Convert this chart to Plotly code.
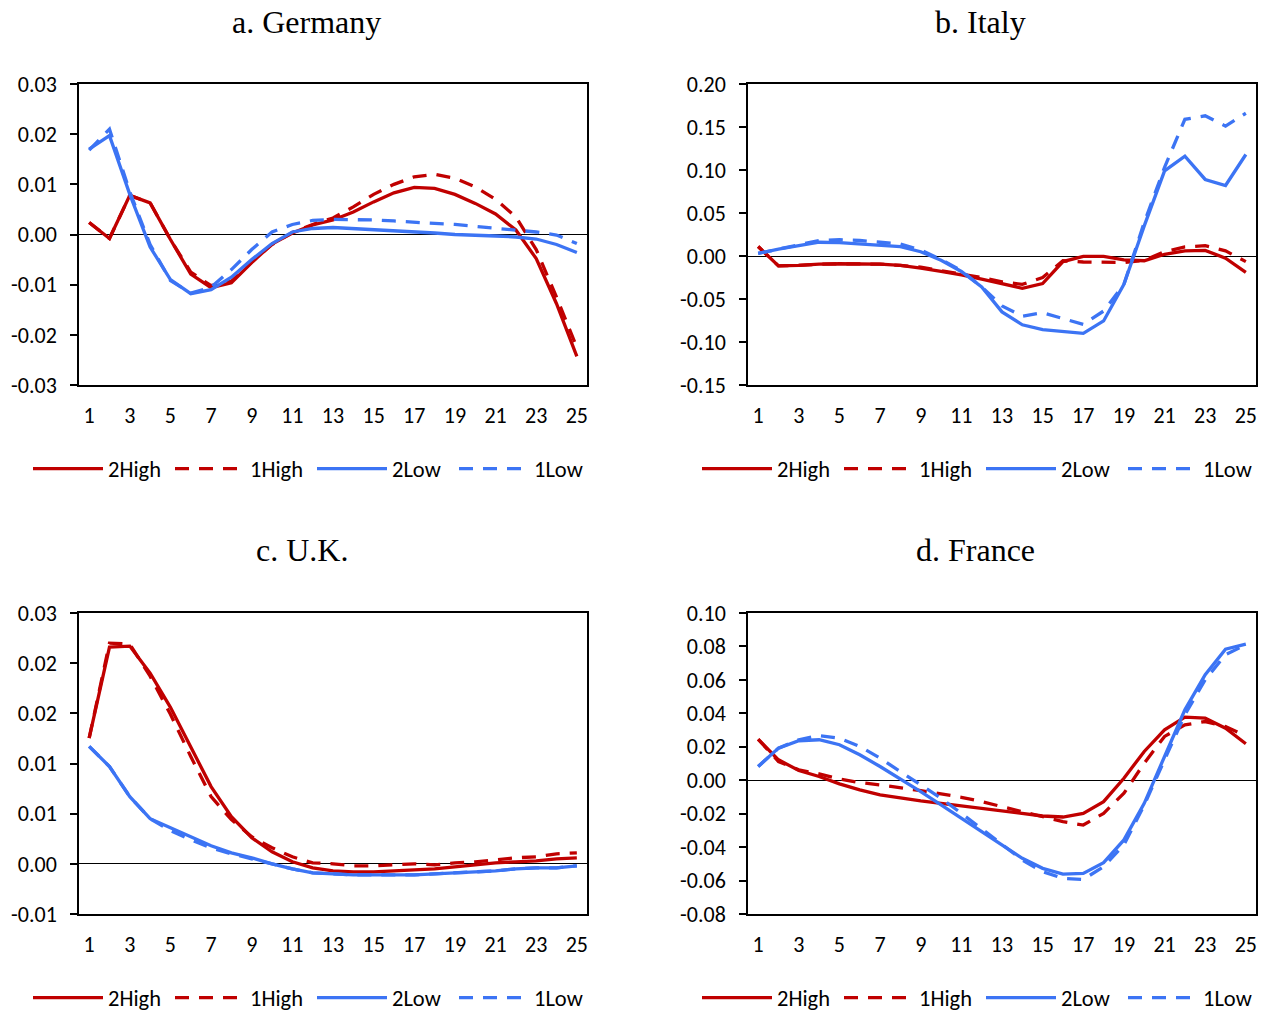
import plotly.graph_objects as go

# Horizon (periods after the shock)
periods = list(range(1, 26))
x_ticks = list(range(1, 26, 2))

series_names = ["2High", "1High", "2Low", "1Low"]

# a. Germany
de_2high = [0.0024, -0.0008, 0.0078, 0.0063, -0.0010, -0.0079, -0.0106, -0.0096, -0.0056, -0.0019,
            0.0003, 0.0019, 0.0029, 0.0045, 0.0065, 0.0083, 0.0094, 0.0092, 0.0080, 0.0062,
            0.0041, 0.0009, -0.0048, -0.0138, -0.0243]
de_1high = [0.0024, -0.0008, 0.0078, 0.0063, -0.0010, -0.0075, -0.0102, -0.0093, -0.0055, -0.0020,
            0.0004, 0.0020, 0.0033, 0.0055, 0.0080, 0.0100, 0.0115, 0.0120, 0.0112, 0.0095,
            0.0070, 0.0035, -0.0030, -0.0125, -0.0225]
de_2low = [0.0170, 0.0197, 0.0080, -0.0025, -0.0090, -0.0118, -0.0110, -0.0085, -0.0050, -0.0018,
           0.0005, 0.0012, 0.0014, 0.0012, 0.0010, 0.0007, 0.0005, 0.0003, 0.0000, -0.0001,
           -0.0003, -0.0005, -0.0009, -0.0020, -0.0036]
de_1low = [0.0168, 0.0210, 0.0085, -0.0020, -0.0092, -0.0117, -0.0105, -0.0070, -0.0030, 0.0005,
           0.0020, 0.0028, 0.0030, 0.0030, 0.0029, 0.0027, 0.0024, 0.0022, 0.0020, 0.0016,
           0.0012, 0.0008, 0.0005, -0.0001, -0.0018]

# b. Italy
it_2high = [0.0110, -0.0115, -0.0110, -0.0095, -0.0090, -0.0090, -0.0095, -0.0110, -0.0140, -0.0180,
            -0.0220, -0.0270, -0.0320, -0.0375, -0.0320, -0.0065, -0.0005, -0.0005, -0.0045, -0.0055,
            0.0020, 0.0060, 0.0065, -0.0025, -0.0190]
it_1high = [0.0110, -0.0115, -0.0110, -0.0095, -0.0090, -0.0090, -0.0095, -0.0110, -0.0130, -0.0170,
            -0.0210, -0.0250, -0.0300, -0.0330, -0.0250, -0.0055, -0.0070, -0.0075, -0.0075, -0.0050,
            0.0050, 0.0105, 0.0120, 0.0060, -0.0065]
it_2low = [0.0030, 0.0080, 0.0120, 0.0160, 0.0155, 0.0140, 0.0130, 0.0110, 0.0050, -0.0050,
           -0.0180, -0.0360, -0.0650, -0.0800, -0.0855, -0.0880, -0.0900, -0.0755, -0.0330, 0.0350,
           0.0990, 0.1160, 0.0890, 0.0820, 0.1180]
it_1low = [0.0030, 0.0080, 0.0130, 0.0180, 0.0190, 0.0180, 0.0160, 0.0140, 0.0070, -0.0040,
           -0.0170, -0.0360, -0.0580, -0.0700, -0.0660, -0.0730, -0.0795, -0.0640, -0.0330, 0.0390,
           0.1030, 0.1590, 0.1630, 0.1510, 0.1660]

# c. U.K.
uk_2high = [0.01254, 0.0216, 0.0217, 0.0190, 0.0156, 0.0117, 0.0077, 0.0047, 0.0026, 0.0012,
            0.0002, -0.0004, -0.0007, -0.0008, -0.0008, -0.0007, -0.0006, -0.0005, -0.0003, -0.0001,
            0.0001, 0.0002, 0.0003, 0.0005, 0.0006]
uk_1high = [0.01254, 0.0220, 0.0219, 0.0187, 0.0149, 0.0107, 0.0067, 0.0044, 0.0027, 0.0016,
            0.0007, 0.0001, 0.0000, -0.0002, -0.0002, -0.0001, 0.0000, -0.0001, 0.0001, 0.0002,
            0.0004, 0.0006, 0.0007, 0.0010, 0.0011]
uk_2low = [0.0117, 0.0097, 0.0067, 0.0045, 0.0036, 0.0027, 0.0018, 0.0011, 0.0006, 0.0000,
           -0.0005, -0.0009, -0.0010, -0.0011, -0.0011, -0.0011, -0.0011, -0.0010, -0.0009, -0.0008,
           -0.0007, -0.0005, -0.0004, -0.0004, -0.0002]
uk_1low = [0.0117, 0.0097, 0.0067, 0.0045, 0.0033, 0.0024, 0.0016, 0.0010, 0.0005, 0.0000,
           -0.0005, -0.0009, -0.0010, -0.0011, -0.0011, -0.0011, -0.0011, -0.0010, -0.0009, -0.0008,
           -0.0007, -0.0005, -0.0004, -0.0004, -0.0002]

# d. France
fr_2high = [0.0245, 0.0122, 0.0058, 0.0022, -0.0022, -0.0058, -0.0088, -0.0108, -0.0124, -0.0138,
            -0.0154, -0.0168, -0.0184, -0.0200, -0.0214, -0.0220, -0.0198, -0.0128, 0.0012, 0.0172,
            0.0301, 0.0377, 0.0371, 0.0311, 0.0218]
fr_1high = [0.0245, 0.0112, 0.0062, 0.0038, 0.0008, -0.0014, -0.0028, -0.0044, -0.0062, -0.0082,
            -0.0102, -0.0128, -0.0158, -0.0188, -0.0218, -0.0248, -0.0268, -0.0198, -0.0078, 0.0102,
            0.0262, 0.0331, 0.0351, 0.0321, 0.0265]
fr_2low = [0.0082, 0.0192, 0.0236, 0.0242, 0.0212, 0.0152, 0.0082, 0.0008, -0.0068, -0.0148,
           -0.0228, -0.0307, -0.0387, -0.0467, -0.0527, -0.0561, -0.0557, -0.0493, -0.0357, -0.0138,
           0.0142, 0.0421, 0.0631, 0.0784, 0.0814]
fr_1low = [0.0082, 0.0192, 0.0242, 0.0267, 0.0251, 0.0202, 0.0132, 0.0052, -0.0028, -0.0108,
           -0.0198, -0.0293, -0.0387, -0.0477, -0.0547, -0.0587, -0.0593, -0.0517, -0.0387, -0.0148,
           0.0122, 0.0391, 0.0601, 0.0751, 0.0810]

# Vertical axis ticks per panel
de_yticks = [-0.03, -0.02, -0.01, 0.0, 0.01, 0.02, 0.03]
de_ylabels = ["-0.03", "-0.02", "-0.01", "0.00", "0.01", "0.02", "0.03"]
it_yticks = [-0.15, -0.10, -0.05, 0.0, 0.05, 0.10, 0.15, 0.20]
it_ylabels = ["-0.15", "-0.10", "-0.05", "0.00", "0.05", "0.10", "0.15", "0.20"]
uk_yticks = [-0.005, 0.0, 0.005, 0.010, 0.015, 0.020, 0.025]
uk_ylabels = ["-0.01", "0.00", "0.01", "0.01", "0.02", "0.02", "0.03"]
fr_yticks = [-0.08, -0.06, -0.04, -0.02, 0.0, 0.02, 0.04, 0.06, 0.08, 0.10]
fr_ylabels = ["-0.08", "-0.06", "-0.04", "-0.02", "0.00", "0.02", "0.04", "0.06", "0.08", "0.10"]

RED = "#C00000"
BLUE = "#3C74F4"
DASH = "14px,10px"
styles = [(RED, "solid"), (RED, DASH), (BLUE, "solid"), (BLUE, DASH)]

W, H = 1267, 1014
TICK_FONT = dict(family="Carlito, Lato, 'Open Sans', sans-serif", size=22, color="black")
LEGEND_FONT = dict(family="Carlito, Lato, 'Open Sans', sans-serif", size=22.5, color="black")
TITLE_FONT = dict(family="'Liberation Serif', 'Times New Roman', serif", size=32, color="black")

panels = [
    dict(title="a. Germany", data=[de_2high, de_1high, de_2low, de_1low],
         yticks=de_yticks, ylabels=de_ylabels, px=(79, 587), py=(84, 385),
         title_xy=(306, 22), legend_xy=(28, 469)),
    dict(title="b. Italy", data=[it_2high, it_1high, it_2low, it_1low],
         yticks=it_yticks, ylabels=it_ylabels, px=(748, 1256), py=(84, 385),
         title_xy=(980, 22), legend_xy=(697, 469)),
    dict(title="c. U.K.", data=[uk_2high, uk_1high, uk_2low, uk_1low],
         yticks=uk_yticks, ylabels=uk_ylabels, px=(79, 587), py=(613, 914),
         title_xy=(302, 550), legend_xy=(28, 998)),
    dict(title="d. France", data=[fr_2high, fr_1high, fr_2low, fr_1low],
         yticks=fr_yticks, ylabels=fr_ylabels, px=(748, 1256), py=(613, 914),
         title_xy=(975, 550), legend_xy=(697, 998)),
]

fig = go.Figure()
layout = {}
annotations = []

for k, p in enumerate(panels, start=1):
    sfx = "" if k == 1 else str(k)
    leg = "legend" if k == 1 else f"legend{k}"
    for name, ys, (color, dash) in zip(series_names, p["data"], styles):
        fig.add_trace(go.Scatter(
            x=periods, y=ys, name=name, mode="lines",
            line=dict(color=color, width=3.3, dash=dash),
            xaxis=f"x{sfx}", yaxis=f"y{sfx}", legend=leg,
        ))
    x0, x1 = p["px"]
    y0, y1 = p["py"]
    layout[f"xaxis{sfx}"] = dict(
        domain=[x0 / W, x1 / W], range=[0.5, 25.5], anchor=f"y{sfx}",
        tickmode="array", tickvals=x_ticks, ticks="", showgrid=False, zeroline=False,
        showline=True, linecolor="black", linewidth=1.5, mirror=True,
        tickfont=TICK_FONT, ticklabelstandoff=10,
    )
    layout[f"yaxis{sfx}"] = dict(
        domain=[1 - y1 / H, 1 - y0 / H], range=[p["yticks"][0], p["yticks"][-1]],
        anchor=f"x{sfx}", tickmode="array", tickvals=p["yticks"], ticktext=p["ylabels"],
        ticks="outside", ticklen=7, tickwidth=1.5, tickcolor="black", showgrid=False,
        zeroline=True, zerolinecolor="black", zerolinewidth=1.2,
        showline=True, linecolor="black", linewidth=1.5, mirror=True,
        tickfont=TICK_FONT, ticklabelstandoff=9,
    )
    lx, ly = p["legend_xy"]
    layout[leg] = dict(
        orientation="h", x=lx / W, y=1 - ly / H, xanchor="left", yanchor="middle",
        xref="paper", yref="paper", bgcolor="rgba(0,0,0,0)", borderwidth=0,
        font=LEGEND_FONT, itemwidth=70, entrywidth=57, entrywidthmode="pixels",
        traceorder="normal", itemclick=False,
    )
    tx, ty = p["title_xy"]
    annotations.append(dict(
        text=p["title"], x=tx / W, y=1 - ty / H, xref="paper", yref="paper",
        xanchor="center", yanchor="middle", showarrow=False, font=TITLE_FONT,
    ))

fig.update_layout(
    width=W, height=H, margin=dict(l=0, r=0, t=0, b=0, autoexpand=False),
    paper_bgcolor="white", plot_bgcolor="white",
    annotations=annotations, showlegend=True, **layout,
)

fig.write_html("out.html")
